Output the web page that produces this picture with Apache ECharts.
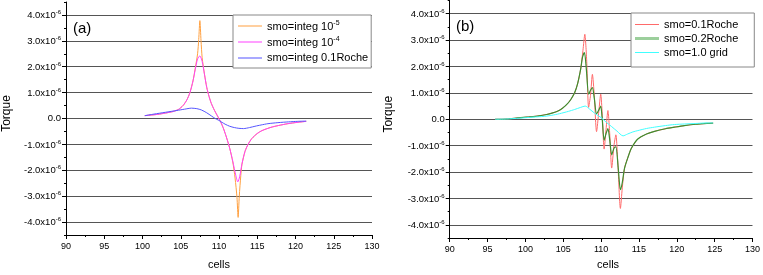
<!DOCTYPE html>
<html><head><meta charset="utf-8">
<script src="https://cdn.jsdelivr.net/npm/echarts@6/dist/echarts.min.js"></script>
<style>html,body{margin:0;padding:0;background:#fff}#c{width:763px;height:275px}</style>
</head><body><div id="c"></div>
<script>
// x: cells, y: torque in units of 1e-6
const xMin = 90, xMax = 130, xStep = 5;
const yMin = -4.5, yMax = 4.5;
const yMajorTicks = [-4, -3, -2, -1, 0, 1, 2, 3, 4];
const yMinorTicks = [-4.5, -3.5, -2.5, -1.5, -0.5, 0.5, 1.5, 2.5, 3.5, 4.5];
const yExponent = '-6';

const namesA = ['smo=integ 10-5', 'smo=integ 10-4', 'smo=integ 0.1Roche'];
const namesB = ['smo=0.1Roche', 'smo=0.2Roche', 'smo=1.0 grid'];

const integ1e5 = [[100.3,0.11],[101,0.13],[102,0.16],[103,0.21],[104,0.27],[104.7,0.35],[105.3,0.5],[105.8,0.72],[106.2,1.0],[106.6,1.45],[106.9,1.95],[107.2,2.5],[107.35,3.05],[107.5,3.78],[107.65,3.0],[107.8,2.35],[108.1,1.72],[108.4,1.2],[108.7,0.85],[109.0,0.58],[109.4,0.32],[109.8,0.1],[110.2,-0.12],[110.6,-0.4],[111.0,-0.75],[111.4,-1.15],[111.8,-1.68],[112.1,-2.3],[112.35,-3.05],[112.5,-3.82],[112.65,-3.0],[112.85,-2.2],[113.0,-1.78],[113.4,-1.27],[113.8,-1.0],[114.3,-0.77],[115.0,-0.58],[115.6,-0.47],[116.8,-0.34],[117.8,-0.27],[119.0,-0.2],[120.2,-0.15],[121.4,-0.11]];
const integ1e4 = [[100.3,0.11],[101,0.13],[102,0.16],[103,0.21],[104,0.27],[104.7,0.35],[105.3,0.5],[105.8,0.72],[106.2,1.0],[106.6,1.45],[106.9,1.9],[107.2,2.3],[107.5,2.42],[107.8,2.2],[108.1,1.7],[108.4,1.2],[108.7,0.85],[109.0,0.58],[109.4,0.32],[109.8,0.1],[110.2,-0.12],[110.6,-0.4],[111.0,-0.75],[111.4,-1.15],[111.8,-1.65],[112.2,-2.2],[112.45,-2.45],[112.7,-2.25],[113.0,-1.75],[113.4,-1.27],[113.8,-1.0],[114.3,-0.77],[115.0,-0.58],[115.6,-0.47],[116.8,-0.34],[117.8,-0.27],[119.0,-0.2],[120.2,-0.15],[121.4,-0.11]];
const integRoche = [[100.3,0.11],[101.5,0.17],[103,0.24],[104.5,0.31],[105.5,0.36],[106.4,0.4],[107.1,0.38],[107.7,0.33],[108.4,0.22],[109.0,0.1],[109.5,0.0],[109.9,-0.06],[110.4,-0.15],[110.8,-0.22],[111.4,-0.3],[112.0,-0.35],[112.6,-0.38],[113.2,-0.39],[114.0,-0.35],[114.7,-0.3],[115.5,-0.25],[116.4,-0.2],[117.7,-0.16],[119.1,-0.13],[120.3,-0.11],[121.4,-0.1]];

const roche01 = [[96,0.0],[97.5,0.01],[99,0.05],[100.5,0.09],[101.8,0.13],[102.8,0.18],[103.5,0.23],[104.3,0.31],[104.9,0.42],[105.5,0.57],[106.0,0.75],[106.5,1.0],[106.9,1.35],[107.3,1.9],[107.6,2.6],[107.85,3.22],[108.1,2.2],[108.35,0.45],[108.6,0.9],[108.85,1.7],[109.1,0.9],[109.4,-0.47],[109.7,0.3],[109.95,0.95],[110.15,0.2],[110.4,-1.13],[110.65,-0.4],[110.9,0.33],[111.15,-0.6],[111.4,-1.85],[111.7,-1.0],[111.95,-0.59],[112.25,-1.9],[112.55,-3.38],[112.8,-2.6],[113.1,-1.85],[113.6,-1.4],[114.0,-1.1],[114.85,-0.75],[116.0,-0.56],[117.05,-0.46],[118.5,-0.36],[119.7,-0.3],[121.0,-0.24],[122.5,-0.19],[124.0,-0.16],[124.8,-0.15]];
const roche02 = [[96,0.0],[97.5,0.01],[99,0.05],[100.5,0.09],[101.8,0.13],[102.8,0.18],[103.5,0.23],[104.3,0.31],[104.9,0.42],[105.5,0.57],[106.0,0.75],[106.5,1.0],[106.9,1.35],[107.3,1.9],[107.55,2.35],[107.8,2.53],[108.05,1.9],[108.35,0.95],[108.6,1.1],[108.85,1.2],[109.1,0.8],[109.4,0.2],[109.7,0.35],[109.95,0.5],[110.15,0.0],[110.4,-0.8],[110.65,-0.55],[110.9,-0.35],[111.15,-0.8],[111.4,-1.35],[111.7,-1.1],[111.95,-1.05],[112.25,-1.8],[112.55,-2.67],[112.8,-2.4],[113.1,-1.85],[113.6,-1.4],[114.0,-1.1],[114.85,-0.75],[116.0,-0.56],[117.05,-0.46],[118.5,-0.36],[119.7,-0.3],[121.0,-0.24],[122.5,-0.19],[124.0,-0.16],[124.8,-0.15]];
const grid10 = [[96,0.0],[97.5,0.01],[99.2,0.04],[101,0.08],[102.5,0.11],[103.5,0.15],[104.5,0.21],[105.7,0.3],[106.5,0.37],[107.3,0.45],[107.9,0.5],[108.5,0.38],[109.1,0.24],[109.6,0.14],[110.1,0.04],[110.7,-0.12],[111.4,-0.28],[112.1,-0.45],[112.9,-0.63],[113.5,-0.56],[114.2,-0.48],[114.85,-0.43],[116.0,-0.35],[117.05,-0.3],[118.5,-0.24],[119.7,-0.2],[121.0,-0.18],[122.5,-0.16],[124.0,-0.14],[124.8,-0.14]];

const FONT = '"Liberation Sans", Arial, sans-serif';
const chart = echarts.init(document.getElementById('c'), null, {renderer: 'canvas'});

function yLabel(v) {
  if (Math.abs(v) < 1e-9) return '{n|0.0}';
  return '{n|' + v.toFixed(1) + 'x10}{s|' + yExponent + '}';
}
const yRich = {
  n: {fontSize: 9.5, fontFamily: FONT, color: '#000', verticalAlign: 'bottom'},
  s: {fontSize: 6, fontFamily: FONT, color: '#000', verticalAlign: 'bottom', padding: [0, 0, 5, 0]}
};
function legendFmt(name) {
  const m = name.match(/^(.*10)(-\d)$/);
  if (m) return '{t|' + m[1] + '}{s|' + m[2] + '}';
  return '{t|' + name + '}';
}
const legendRich = {
  t: {fontSize: 11, fontFamily: FONT, color: '#000', verticalAlign: 'bottom'},
  s: {fontSize: 7, fontFamily: FONT, color: '#000', verticalAlign: 'bottom', padding: [0, 0, 5, 0]}
};
// line-shaped legend icons (bbox = itemWidth x itemHeight, bar in the middle)
function barIcon(w, h, t) {
  const y0 = (h - t) / 2, y1 = y0 + t;
  return 'path://M0,0L0.01,0L0.01,0.01L0,0.01Z M0,' + y0 + 'L' + w + ',' + y0 + 'L' + w + ',' + y1 + 'L0,' + y1 +
    'Z M' + (w - 0.01) + ',' + (h - 0.01) + 'L' + w + ',' + (h - 0.01) + 'L' + w + ',' + h + 'L' + (w - 0.01) + ',' + h + 'Z';
}

function xAxisFor(gi, nameGap, namePad) {
  return {
    type: 'value', gridIndex: gi, min: xMin, max: xMax, interval: xStep,
    name: 'cells', nameLocation: 'middle', nameGap: nameGap,
    nameTextStyle: {fontSize: 11, fontFamily: FONT, color: '#000', padding: namePad},
    axisLine: {show: true, onZero: false, lineStyle: {color: '#000', width: 1}},
    axisTick: {show: true, length: 4, lineStyle: {color: '#000'}},
    minorTick: {show: true, splitNumber: 2, length: 2, lineStyle: {color: '#000'}},
    axisLabel: {fontSize: 9, fontFamily: FONT, color: '#000', margin: 7},
    splitLine: {show: false}
  };
}
function yAxesFor(gi, nameGap, namePad) {
  return [{
    type: 'value', gridIndex: gi, position: 'left', min: yMin, max: yMax,
    name: 'Torque', nameLocation: 'middle', nameRotate: 90, nameGap: nameGap,
    nameTextStyle: {fontSize: 12, fontFamily: FONT, color: '#000', padding: namePad},
    axisLine: {show: true, onZero: false, lineStyle: {color: '#000', width: 1}},
    axisTick: {show: true, length: 4, customValues: yMajorTicks, lineStyle: {color: '#000'}},
    axisLabel: {customValues: yMajorTicks, formatter: yLabel, rich: yRich, margin: 5},
    splitLine: {show: true, lineStyle: {color: '#555', width: 1}}
  }, {
    type: 'value', gridIndex: gi, position: 'left', min: yMin, max: yMax,
    axisLine: {show: false},
    axisTick: {show: true, length: 2, customValues: yMinorTicks, lineStyle: {color: '#000'}},
    axisLabel: {show: false},
    splitLine: {show: false}
  }];
}

const line = (name, data, xi, yi, color, width) => ({
  name, type: 'line', data, xAxisIndex: xi, yAxisIndex: yi,
  symbol: 'none', smooth: 0.25, lineStyle: {color, width}, itemStyle: {color},
  animation: false
});

const option = {
  animation: false,
  textStyle: {fontFamily: FONT},
  title: [
    {text: '(a)', left: 73, top: 21, padding: 0, textStyle: {fontSize: 15, fontWeight: 'normal', fontFamily: FONT, color: '#000'}},
    {text: '(b)', left: 456, top: 19, padding: 0, textStyle: {fontSize: 15, fontWeight: 'normal', fontFamily: FONT, color: '#000'}}
  ],
  grid: [
    {left: 66, top: 2, width: 306, height: 238.5},
    {left: 449.7, top: 0.5, width: 306, height: 238.5}
  ],
  xAxis: [xAxisFor(0, 24, [0, 0, 0, 0]), xAxisFor(1, 21, [0, 0, 0, 14])],
  yAxis: [...yAxesFor(0, 53, [0, 0, 0, 10]), ...yAxesFor(1, 55, [0, 0, 0, 10])],
  legend: [
    {data: namesA, left: 233, top: 15, orient: 'vertical', itemWidth: 24, itemHeight: 14, itemGap: 2,
     icon: barIcon(24, 14, 1), itemStyle: {borderWidth: 0},
     padding: [4, 3, 3, 5], backgroundColor: '#fff', borderColor: '#888', borderWidth: 1, borderRadius: 0,
     formatter: legendFmt, textStyle: {rich: legendRich, fontSize: 11, fontFamily: FONT, color: '#000'}},
    {data: [namesB[0], {name: namesB[1], icon: barIcon(24, 13, 3), itemStyle: {color: '#9ccf9c'}}, namesB[2]],
     left: 631, top: 13, orient: 'vertical', itemWidth: 24, itemHeight: 13, itemGap: 1,
     icon: barIcon(24, 13, 1), itemStyle: {borderWidth: 0},
     padding: [5, 16, 8, 4], backgroundColor: '#fff', borderColor: '#888', borderWidth: 1, borderRadius: 0,
     formatter: legendFmt, textStyle: {rich: legendRich, fontSize: 11, fontFamily: FONT, color: '#000'}}
  ],
  series: [
    line(namesA[0], integ1e5, 0, 0, '#ffa040', 1),
    line(namesA[1], integ1e4, 0, 0, '#ff40ff', 1),
    line(namesA[2], integRoche, 0, 0, '#5555ff', 1),
    line(namesB[0], roche01, 1, 2, '#ff6a6a', 1),
    line(namesB[1], roche02, 1, 2, '#3d8f2f', 1.2),
    line(namesB[2], grid10, 1, 2, '#40ffff', 1)
  ]
};
chart.setOption(option);
</script></body></html>
